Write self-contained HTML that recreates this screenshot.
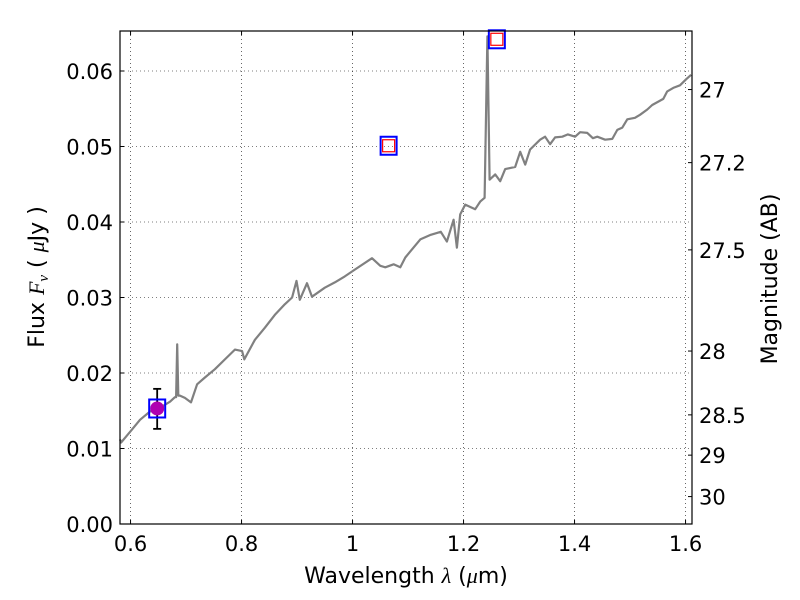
<!DOCTYPE html>
<html><head><meta charset="utf-8"><style>
html,body{margin:0;padding:0;background:#fff;width:800px;height:600px;overflow:hidden}
svg{font-family:"DejaVu Sans","Liberation Sans",sans-serif}
</style></head><body>
<svg id="chart" width="800" height="600" viewBox="0 0 800 600" xmlns="http://www.w3.org/2000/svg"></svg>
<script>
const xTicks=[0.6,0.8,1.0,1.2,1.4,1.6];
const xTickLabels=["0.6","0.8","1","1.2","1.4","1.6"];
const yTicks=[0,0.01,0.02,0.03,0.04,0.05,0.06];
const yTickLabels=["0.00","0.01","0.02","0.03","0.04","0.05","0.06"];
const magTicks=[27,27.2,27.5,28,28.5,29,30];
const magTickLabels=["27","27.2","27.5","28","28.5","29","30"];
const specWave=[0.581,0.583,0.599,0.617,0.635,0.653,0.671,0.680,0.682,0.684,0.686,0.689,0.698,0.709,0.720,0.734,0.752,0.770,0.788,0.801,0.805,0.824,0.842,0.860,0.878,0.891,0.899,0.905,0.918,0.927,0.950,0.968,0.986,1.004,1.035,1.050,1.059,1.074,1.086,1.095,1.104,1.122,1.141,1.159,1.170,1.182,1.188,1.194,1.203,1.221,1.230,1.238,1.243,1.247,1.257,1.266,1.275,1.293,1.302,1.311,1.320,1.338,1.347,1.356,1.365,1.378,1.388,1.401,1.410,1.423,1.433,1.441,1.455,1.468,1.477,1.486,1.495,1.509,1.518,1.531,1.540,1.560,1.567,1.579,1.590,1.601,1.610];
const specFlux=[0.0112,0.0108,0.0122,0.0138,0.0149,0.0154,0.0162,0.0168,0.0168,0.0238,0.0170,0.0170,0.0167,0.0161,0.0185,0.0194,0.0205,0.0218,0.0231,0.0229,0.0218,0.0244,0.0260,0.0277,0.0291,0.0300,0.0322,0.0297,0.0319,0.0301,0.0313,0.0320,0.0328,0.0337,0.0352,0.0342,0.0340,0.0344,0.0340,0.0353,0.0361,0.0377,0.0383,0.0387,0.0374,0.0403,0.0366,0.0410,0.0423,0.0417,0.0427,0.0432,0.0646,0.0456,0.0463,0.0454,0.0470,0.0473,0.0493,0.0476,0.0496,0.0509,0.0513,0.0503,0.0512,0.0513,0.0516,0.0513,0.0519,0.0518,0.0511,0.0513,0.0509,0.0510,0.0522,0.0525,0.0536,0.0538,0.0542,0.0549,0.0555,0.0563,0.0573,0.0578,0.0581,0.0589,0.0595];
const photWave=[0.648];
const photFlux=[0.0153];
const photErrLo=[0.0126];
const photErrHi=[0.0179];
const boxWave=[0.648,1.065,1.260];
const boxFlux=[0.0153,0.0501,0.0642];
const redWave=[1.065,1.260];
const redFlux=[0.0501,0.0642];

const L=120,R=692,T=31,B=524;
const xMin=0.581,xMax=0.581+(R-L)/555;
const yMin=0,yMax=(B-T)/7550;
const sx=v=>L+(v-xMin)/(xMax-xMin)*(R-L);
const sy=v=>B-(v-yMin)/(yMax-yMin)*(B-T);
const magToFlux=m=>Math.pow(10,(23.9-m)/2.5);
const svg=document.getElementById('chart');
const NS="http://www.w3.org/2000/svg";
function mk(tag,attrs,parent){const e=document.createElementNS(NS,tag);for(const k in attrs)e.setAttribute(k,attrs[k]);(parent||svg).appendChild(e);return e;}

xTicks.forEach((t,i)=>{
  const g=mk('line',{x1:sx(t),x2:sx(t),y1:T,y2:B,stroke:'#000','stroke-width':0.6,'stroke-dasharray':'1,3'});
  
  
  const tk=mk('line',{x1:sx(t),x2:sx(t),y1:B,y2:B-4,stroke:'#000'});
  
  
  const tk2=mk('line',{x1:sx(t),x2:sx(t),y1:T,y2:T+4,stroke:'#000'});
  
  
  const lb=mk('text',{x:sx(t),y:B+27,'text-anchor':'middle','font-size':21,fill:'#000'});
  lb.textContent=xTickLabels[i];
  
  
});
yTicks.forEach((t,i)=>{
  const g=mk('line',{x1:L,x2:R,y1:sy(t),y2:sy(t),stroke:'#000','stroke-width':0.6,'stroke-dasharray':'1,3'});
  
  
  const tk=mk('line',{x1:L,x2:L+4,y1:sy(t),y2:sy(t),stroke:'#000'});
  
  
  const lb=mk('text',{x:L-7,y:sy(t)+8,'text-anchor':'end','font-size':21,fill:'#000'});
  lb.textContent=yTickLabels[i];
  
  
});
magTicks.forEach((m,i)=>{
  const y=sy(magToFlux(m));
  const tk=mk('line',{x1:R-4,x2:R,y1:y,y2:y,stroke:'#000'});
  
  
  const lb=mk('text',{x:R+7,y:y+8,'font-size':21,fill:'#000'});
  lb.textContent=magTickLabels[i];
  
  
});

const pts=specWave.map((w,i)=>sx(w).toFixed(1)+','+sy(specFlux[i]).toFixed(1)).join(' ');
const line=mk('polyline',{points:pts,fill:'none',stroke:'#808080','stroke-width':2.2,'stroke-linejoin':'round'});



photWave.forEach((w,i)=>{
  const x=sx(w);
  const e=mk('line',{x1:x,x2:x,y1:sy(photErrLo[i]),y2:sy(photErrHi[i]),stroke:'#000','stroke-width':1.8});
  
  
  [photErrLo[i],photErrHi[i]].forEach(v=>{
    const c=mk('line',{x1:x-4,x2:x+4,y1:sy(v),y2:sy(v),stroke:'#000','stroke-width':1.8});
    
    
  });
  const p=mk('circle',{cx:x,cy:sy(photFlux[i]),r:7,fill:'#b000b0'});
  
  
});
boxWave.forEach((w,i)=>{
  const b=mk('rect',{x:sx(w)-8,y:sy(boxFlux[i])-9,width:16,height:18,fill:'none',stroke:'#0000ff','stroke-width':2});
  
  
});
redWave.forEach((w,i)=>{
  const b=mk('rect',{x:sx(w)-6,y:sy(redFlux[i])-6,width:12,height:12,fill:'none',stroke:'#ff0000','stroke-width':1.2});
  
  
});

const fr=mk('rect',{x:L,y:T,width:R-L,height:B-T,fill:'none',stroke:'#000','stroke-width':1.2});



const xt=mk('text',{x:406,y:583,'text-anchor':'middle','font-size':22,fill:'#000'});
xt.innerHTML='Wavelength  <tspan font-style="italic" font-family="Liberation Serif, serif">λ</tspan> (<tspan font-style="italic" font-family="Liberation Serif, serif">μ</tspan>m)';


const yt=mk('text',{x:0,y:0,'text-anchor':'middle','font-size':22,fill:'#000',transform:'translate(44,277) rotate(-90)'});
yt.innerHTML='Flux  <tspan font-style="italic" font-family="Liberation Serif, serif">F</tspan><tspan font-style="italic" font-size="15" dy="4" font-family="Liberation Serif, serif">ν</tspan><tspan dy="-4">  ( </tspan><tspan font-style="italic" font-family="Liberation Serif, serif">μ</tspan>Jy )';


const rt=mk('text',{x:0,y:0,'text-anchor':'middle','font-size':22,fill:'#000',transform:'translate(777,279) rotate(-90)'});
rt.textContent='Magnitude (AB)';


</script>
</body></html>
